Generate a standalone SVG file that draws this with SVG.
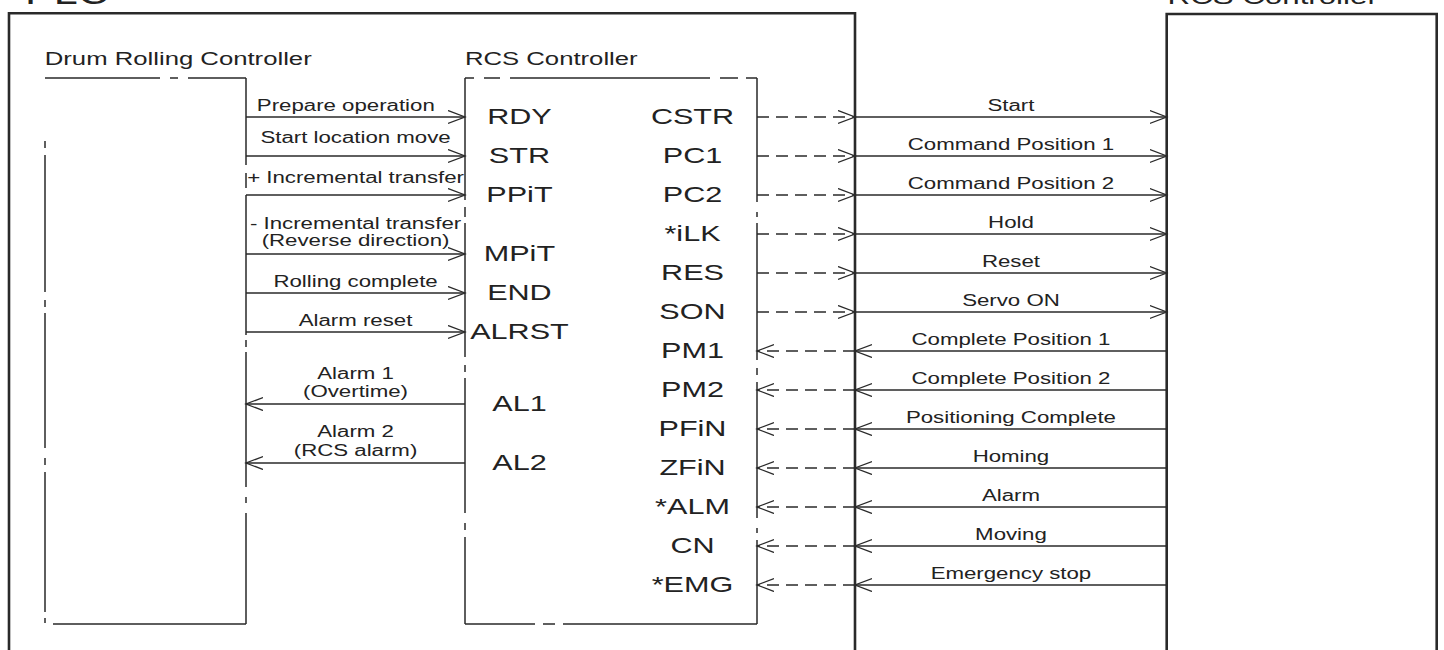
<svg xmlns="http://www.w3.org/2000/svg" width="1444" height="650" viewBox="0 0 1444 650">
<style>
  .t { font-family: "Liberation Sans", Arial, sans-serif; fill: #222; }
  .title { font-size: 18.5px; }
  .sig { font-size: 22px; text-anchor: middle; }
  .lbl { font-size: 16px; text-anchor: middle; }
  .outer { fill: none; stroke: #2a2a2a; stroke-width: 2.6; }
  .inner { fill: none; stroke: #2a2a2a; stroke-width: 1.5; }
  .ln { fill: none; stroke: #2a2a2a; stroke-width: 1.3; marker-end: url(#arr); }
  .dl { fill: none; stroke: #2a2a2a; stroke-width: 1.3; stroke-dasharray: 12 7; marker-end: url(#arr); }
</style>
<defs>
  <marker id="arr" markerUnits="userSpaceOnUse" markerWidth="20" markerHeight="16" refX="17" refY="7" orient="auto">
    <path d="M0,0.5 L17,7 L0,13.5" fill="none" stroke="#2a2a2a" stroke-width="1.3"/>
  </marker>
</defs>
<rect width="1444" height="650" fill="#fff"/>

<g id="plc">
  <path class="outer" d="M9,652 V13.3 H855 V652"/>
  <g transform="scale(1.39,1)">
    <text class="t" x="18" y="4" font-size="31">PLC</text>
  </g>
</g>

<g id="rcs-controller-unit">
  <path class="outer" d="M1166.7,652 V14 H1436.7 V652"/>
  <g transform="scale(1.39,1)">
    <text class="t" x="840" y="4.3" font-size="22.5">RCS Controller</text>
  </g>
</g>

<g id="drum-rolling-controller">
  <path class="inner" d="M45,78 H160 M170,78 H178 M188,78 H246
    M246,78 V165 M246,173 V188 M246,195 V335 M246,340 V347 M246,352 V487 M246,497 V503 M246,513 V624
    M246,624 H53
    M45,623 V618 M45,612 V472 M45,465 V458 M45,448 V313 M45,307 V300 M45,292 V155 M45,148 V141"/>
  <g transform="scale(1.39,1)">
    <text class="t title" x="32.2" y="65">Drum Rolling Controller</text>
  </g>
</g>

<g id="rcs-controller-block">
  <path class="inner" d="M465,78 H474 M484,78 H500 M510,78 H710 M720,78 H738 M746,78 H757
    M757,78 V202 M757,212 V217 M757,223 V360 M757,368 V375 M757,382 V518 M757,528 V533 M757,540 V624
    M757,624 H563 M555,624 H543 M535,624 H465
    M465,624 V537 M465,530 V523 M465,513 V378 M465,372 V365 M465,357 V223 M465,217 V207 M465,200 V78"/>
  <g transform="scale(1.39,1)">
    <text class="t title" x="334.5" y="65">RCS Controller</text>
    <text class="t sig" x="373.7" y="124">RDY</text>
    <text class="t sig" x="373.7" y="163">STR</text>
    <text class="t sig" x="373.7" y="202">PPiT</text>
    <text class="t sig" x="373.7" y="261">MPiT</text>
    <text class="t sig" x="373.7" y="300">END</text>
    <text class="t sig" x="373.7" y="339">ALRST</text>
    <text class="t sig" x="373.7" y="411">AL1</text>
    <text class="t sig" x="373.7" y="470">AL2</text>
    <text class="t sig" x="498.2" y="124">CSTR</text>
    <text class="t sig" x="498.2" y="163">PC1</text>
    <text class="t sig" x="498.2" y="202">PC2</text>
    <text class="t sig" x="498.2" y="241">*iLK</text>
    <text class="t sig" x="498.2" y="280">RES</text>
    <text class="t sig" x="498.2" y="319">SON</text>
    <text class="t sig" x="498.2" y="358">PM1</text>
    <text class="t sig" x="498.2" y="397">PM2</text>
    <text class="t sig" x="498.2" y="436">PFiN</text>
    <text class="t sig" x="498.2" y="475">ZFiN</text>
    <text class="t sig" x="498.2" y="514">*ALM</text>
    <text class="t sig" x="498.2" y="553">CN</text>
    <text class="t sig" x="498.2" y="592">*EMG</text>
  </g>
</g>

<g id="connectors">
  <!-- Drum Rolling Controller -> RCS Controller block -->
  <path class="ln" d="M246,117 H465"/>
  <path class="ln" d="M246,156 H465"/>
  <path class="ln" d="M246,195 H465"/>
  <path class="ln" d="M246,254 H465"/>
  <path class="ln" d="M246,293 H465"/>
  <path class="ln" d="M246,332 H465"/>
  <path class="ln" d="M465,404 H246"/>
  <path class="ln" d="M465,463 H246"/>

  <!-- dashed: block to PLC boundary -->
  <path class="dl" d="M757,117 H855"/>
  <path class="dl" d="M757,156 H855"/>
  <path class="dl" d="M757,195 H855"/>
  <path class="dl" d="M757,234 H855"/>
  <path class="dl" d="M757,273 H855"/>
  <path class="dl" d="M757,312 H855"/>
  <path class="dl" d="M855,351 H757"/>
  <path class="dl" d="M855,390 H757"/>
  <path class="dl" d="M855,429 H757"/>
  <path class="dl" d="M855,468 H757"/>
  <path class="dl" d="M855,507 H757"/>
  <path class="dl" d="M855,546 H757"/>
  <path class="dl" d="M855,585 H757"/>

  <!-- PLC boundary to RCS Controller unit -->
  <path class="ln" d="M855,117 H1166.7"/>
  <path class="ln" d="M855,156 H1166.7"/>
  <path class="ln" d="M855,195 H1166.7"/>
  <path class="ln" d="M855,234 H1166.7"/>
  <path class="ln" d="M855,273 H1166.7"/>
  <path class="ln" d="M855,312 H1166.7"/>
  <path class="ln" d="M1166.7,351 H855"/>
  <path class="ln" d="M1166.7,390 H855"/>
  <path class="ln" d="M1166.7,429 H855"/>
  <path class="ln" d="M1166.7,468 H855"/>
  <path class="ln" d="M1166.7,507 H855"/>
  <path class="ln" d="M1166.7,546 H855"/>
  <path class="ln" d="M1166.7,585 H855"/>

  <g transform="scale(1.39,1)">
    <text class="t lbl" x="248.8" y="111">Prepare operation</text>
    <text class="t lbl" x="255.8" y="143.3">Start location move</text>
    <text class="t lbl" x="255.8" y="183.3">+ Incremental transfer</text>
    <text class="t lbl" x="255.8" y="229">- Incremental transfer</text>
    <text class="t lbl" x="255.8" y="246.5">(Reverse direction)</text>
    <text class="t lbl" x="255.8" y="286.7">Rolling complete</text>
    <text class="t lbl" x="255.8" y="325.7">Alarm reset</text>
    <text class="t lbl" x="255.8" y="379.3">Alarm 1</text>
    <text class="t lbl" x="255.8" y="397">(Overtime)</text>
    <text class="t lbl" x="255.8" y="437.3">Alarm 2</text>
    <text class="t lbl" x="255.8" y="456">(RCS alarm)</text>

    <text class="t lbl" x="727.3" y="111">Start</text>
    <text class="t lbl" x="727.3" y="150">Command Position 1</text>
    <text class="t lbl" x="727.3" y="189">Command Position 2</text>
    <text class="t lbl" x="727.3" y="228">Hold</text>
    <text class="t lbl" x="727.3" y="267">Reset</text>
    <text class="t lbl" x="727.3" y="306">Servo ON</text>
    <text class="t lbl" x="727.3" y="345">Complete Position 1</text>
    <text class="t lbl" x="727.3" y="384">Complete Position 2</text>
    <text class="t lbl" x="727.3" y="423">Positioning Complete</text>
    <text class="t lbl" x="727.3" y="462">Homing</text>
    <text class="t lbl" x="727.3" y="501">Alarm</text>
    <text class="t lbl" x="727.3" y="540">Moving</text>
    <text class="t lbl" x="727.3" y="579">Emergency stop</text>
  </g>
</g>
</svg>
